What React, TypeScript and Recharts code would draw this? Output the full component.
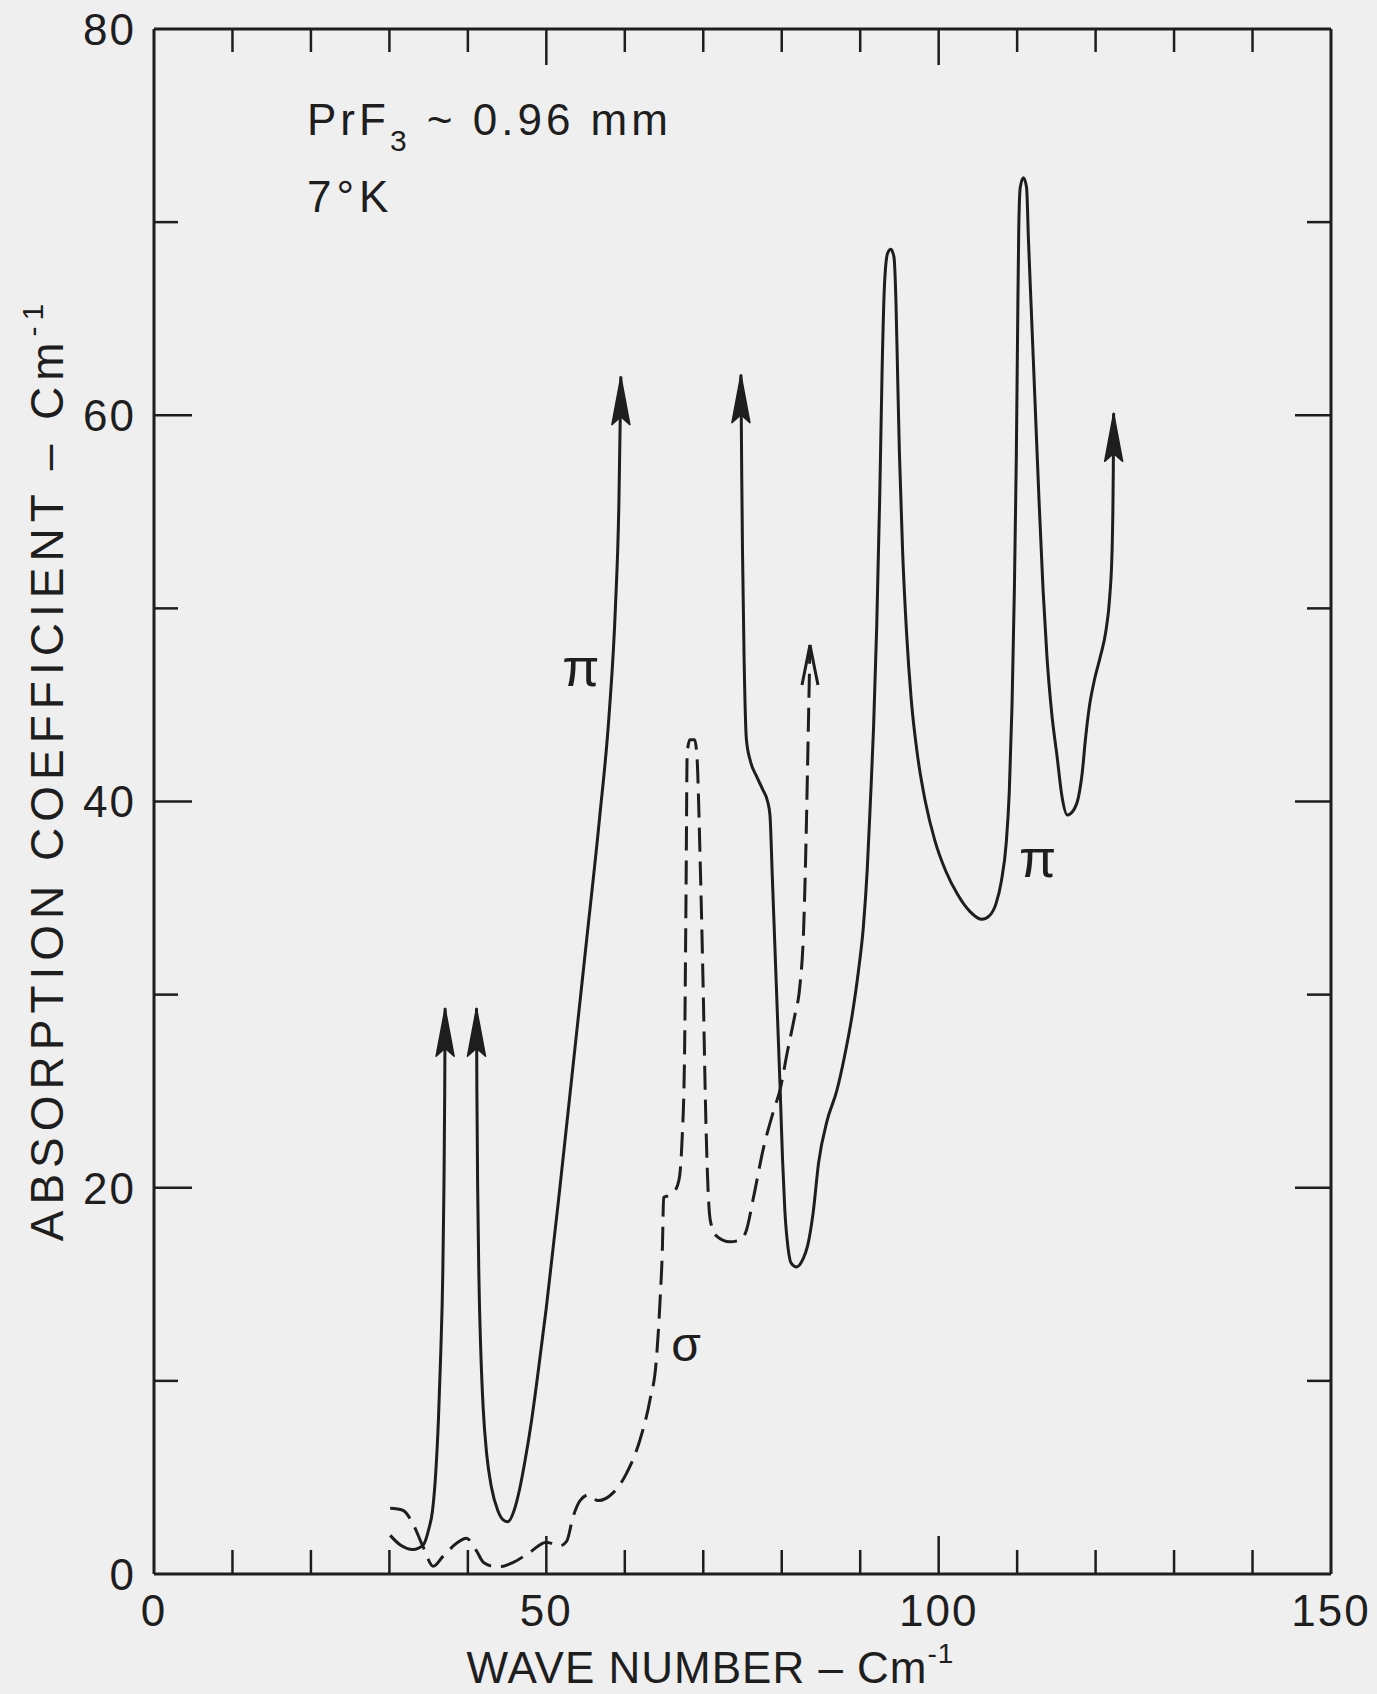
import { ComposedChart, Line, Scatter, XAxis, YAxis, ReferenceDot } from 'recharts';

const INK = '#1e1e1e';
const PAPER = '#efefef';
const FONT = "'Liberation Sans', Arial, sans-serif";

// axis ticks: every 10, labels only on the majors
const xTicks = [0, 10, 20, 30, 40, 50, 60, 70, 80, 90, 100, 110, 120, 130, 140, 150];
const yTicks = [0, 10, 20, 30, 40, 50, 60, 70, 80];

const pts = (rows: number[][]) => rows.map(([x, y]) => ({ x, y }));

// pi polarisation (solid) - broken where it runs off scale (arrows)
const piLow = pts([
    [30.1, 2.0], [31.4, 1.5], [33.0, 1.27], [34.3, 1.5], [35.0, 2.3], [35.5, 3.3],
    [35.9, 5.2], [36.25, 8.0], [36.55, 11.5], [36.8, 15.5], [36.95, 20], [37.05, 25], [37.1, 29.3],
]);

const piMid = pts([
    [41.1, 29.3], [41.15, 25], [41.25, 20], [41.4, 15.5], [41.65, 11.5], [41.95, 8.6],
    [42.4, 6.2], [43.0, 4.5], [43.8, 3.3], [44.5, 2.8], [45.1, 2.7], [45.9, 3.3],
    [46.6, 4.4], [47.3, 5.9], [48.1, 7.9], [49.0, 10.6], [50.0, 13.8], [51.7, 19.9],
    [53.4, 26.3], [55.1, 32.7], [56.8, 39.2], [58.0, 44.5], [58.8, 50.0], [59.25, 55.5],
    [59.5, 62.0],
]);

const piHigh = pts([
    [74.8, 62.1], [74.9, 57], [75.0, 53], [75.2, 47.5], [75.5, 43.2], [76.0, 42.1],
    [76.8, 41.3], [77.6, 40.6], [78.2, 40.0], [78.5, 39.3], [78.8, 36.1], [79.1, 32.8],
    [79.5, 28.4], [79.8, 25.1], [80.1, 21.5], [80.4, 18.8], [80.8, 16.9], [81.2, 16.1],
    [81.9, 15.9], [82.7, 16.3], [83.3, 17.0], [84.0, 18.7], [84.7, 21.3], [85.8, 23.5],
    [87.0, 25.0], [88.0, 26.8], [89.0, 29.0], [89.8, 31.3], [90.4, 33.5], [90.9, 36.5],
    [91.3, 40.0], [91.7, 43.8], [92.1, 49.0], [92.5, 56.0], [92.8, 62.5], [93.1, 66.8],
    [93.5, 68.4], [93.9, 68.6], [94.3, 68.2], [94.55, 66.0], [94.8, 61.5], [95.0, 58.0],
    [95.4, 53.0], [95.9, 48.8], [96.5, 45.3], [97.3, 42.4], [98.3, 40.0], [99.5, 38.0],
    [100.9, 36.4], [102.4, 35.2], [104.0, 34.3], [105.5, 33.9], [106.5, 34.1], [107.3, 34.7],
    [108.0, 35.9], [108.6, 37.8], [109.0, 40.5], [109.35, 45.0], [109.65, 51.0], [109.9, 58.0],
    [110.05, 64.0], [110.2, 69.5], [110.4, 71.8], [110.8, 72.3], [111.2, 71.8], [111.45, 69.0],
    [111.8, 65.5], [112.3, 60.5], [112.8, 55.5], [113.3, 51.0], [113.8, 47.5], [114.4, 44.6],
    [115.1, 42.3], [115.7, 40.3], [116.4, 39.3], [117.1, 39.5], [117.8, 40.2], [118.3, 41.5],
    [118.7, 43.2], [119.2, 44.9], [119.8, 46.2], [120.6, 47.5], [121.3, 48.8], [121.8, 50.6],
    [122.1, 53.0], [122.25, 57.0], [122.3, 60.1],
]);

// sigma polarisation (dashed)
const sigma = pts([
    [30.1, 3.4], [31.7, 3.3], [33.0, 2.6], [34.3, 1.4], [35.6, 0.4], [36.8, 0.9],
    [38.6, 1.6], [39.8, 1.85], [41.1, 1.2], [42.0, 0.6], [43.7, 0.36], [45.8, 0.6],
    [47.9, 1.13], [50.0, 1.65], [51.7, 1.45], [52.6, 1.7], [53.4, 2.95], [54.3, 3.8],
    [55.4, 4.1], [56.6, 3.8], [58.5, 4.2], [60.2, 5.2], [61.9, 6.9], [63.2, 9.0],
    [64.0, 11.0], [64.5, 14.2], [64.8, 17.0], [64.95, 19.5], [65.6, 19.6], [66.3, 19.8],
    [66.9, 20.4], [67.3, 22.5], [67.6, 26.5], [67.8, 35.0], [67.95, 42.5], [68.3, 43.2],
    [68.9, 43.2], [69.2, 42.3], [69.6, 37.0], [70.0, 30.1], [70.3, 24.0], [70.6, 20.0],
    [70.9, 18.3], [71.7, 17.5], [73.4, 17.2], [74.7, 17.3], [75.5, 17.8], [76.4, 19.5],
    [77.7, 22.1], [78.9, 23.9], [79.8, 25.1], [80.7, 27.0], [81.7, 29.0], [82.3, 30.4],
    [82.8, 33.5], [83.1, 38.0], [83.35, 43.0], [83.6, 48.1],
]);

// off-scale markers
const solidArrowTips = pts([[37.1, 29.3], [41.1, 29.3], [59.5, 62.0], [74.8, 62.1], [122.3, 60.1]]);
const dashedArrowTips = pts([[83.6, 48.1]]);

const txt = { fontFamily: FONT, fill: INK };

const BottomTick = ({ x, y, payload }: any) => {
    const v = payload.value;
    const major = v % 50 === 0;
    return (
        <g>
            {v > 0 && v < 150 && (
                <line x1={x} y1={y} x2={x} y2={y - (major ? 38 : 24)} stroke={INK} strokeWidth={2.5} />
            )}
            {major && (
                <text x={x} y={y + 52} textAnchor="middle" fontSize={44} letterSpacing={2} {...txt}>
                    {v}
                </text>
            )}
        </g>
    );
};

const TopTick = ({ x, y, payload }: any) => {
    const v = payload.value;
    if (v <= 0 || v >= 150) return <g />;
    return <line x1={x} y1={y} x2={x} y2={y + (v % 50 === 0 ? 36 : 23)} stroke={INK} strokeWidth={2.5} />;
};

const LeftTick = ({ x, y, payload }: any) => {
    const v = payload.value;
    const major = v % 20 === 0;
    return (
        <g>
            {v > 0 && v < 80 && (
                <line x1={x} y1={y} x2={x + (major ? 38 : 24)} y2={y} stroke={INK} strokeWidth={2.5} />
            )}
            {major && (
                <text x={x - 18} y={y} dy="0.36em" textAnchor="end" fontSize={44} letterSpacing={2} {...txt}>
                    {v}
                </text>
            )}
        </g>
    );
};

const RightTick = ({ x, y, payload }: any) => {
    const v = payload.value;
    if (v <= 0 || v >= 80) return <g />;
    return <line x1={x} y1={y} x2={x - (v % 20 === 0 ? 36 : 24)} y2={y} stroke={INK} strokeWidth={2.5} />;
};

const XTitle = (props: any) => {
    const vb = props.viewBox || { x: 154, y: 1574, width: 1177, height: 120 };
    return (
        <text x={vb.x + vb.width / 2 - 32} y={vb.y + 109} textAnchor="middle" fontSize={44} letterSpacing={1} {...txt}>
            WAVE NUMBER – Cm<tspan dy={-20} fontSize={28}>-1</tspan>
        </text>
    );
};

const YTitle = (props: any) => {
    const vb = props.viewBox || { x: 54, y: 29, width: 100, height: 1545 };
    const bx = vb.x + 9;
    const by = vb.y + vb.height / 2 - 32;
    return (
        <text transform={`translate(${bx},${by}) rotate(-90)`} textAnchor="middle" fontSize={46} letterSpacing={6} {...txt}>
            ABSORPTION COEFFICIENT – Cm<tspan dy={-20} fontSize={30}>-1</tspan>
        </text>
    );
};

const SolidHead = ({ cx, cy }: any) => (
    <path
        d={`M${cx},${cy} L${cx + 9},${cy + 48} L${cx},${cy + 40} L${cx - 9},${cy + 48} Z`}
        fill={INK}
        stroke={INK}
        strokeWidth={1.5}
        strokeLinejoin="round"
    />
);

const OpenHead = ({ cx, cy }: any) => (
    <path d={`M${cx - 8},${cy + 40} L${cx},${cy} L${cx + 8},${cy + 40}`} fill="none" stroke={INK} strokeWidth={3} />
);

const SampleNote = ({ cx, cy }: any) => (
    <g>
        <text x={cx} y={cy} fontSize={44} letterSpacing={4} {...txt}>
            PrF<tspan dy={16} fontSize={30}>3</tspan>
            <tspan dy={-16}> ~ 0.96 mm</tspan>
        </text>
        <text x={cx} y={cy + 77} fontSize={44} letterSpacing={5} {...txt}>
            7°K
        </text>
    </g>
);

const glyph = (ch: string, size: number) => ({ cx, cy }: any) => (
    <text x={cx} y={cy} dy="0.26em" textAnchor="middle" fontSize={size} {...txt}>
        {ch}
    </text>
);

const App = () => {
    return (
        <div style={{ position: 'absolute', left: 0, top: 0, width: 1377, height: 1694, background: PAPER }}>
            <ComposedChart width={1377} height={1694} margin={{ top: 0, right: 0, bottom: 0, left: 54 }}>
                <XAxis
                    type="number"
                    dataKey="x"
                    domain={[0, 150]}
                    ticks={xTicks}
                    interval={0}
                    height={120}
                    tickSize={0}
                    tickMargin={0}
                    tickLine={false}
                    axisLine={{ stroke: INK, strokeWidth: 3 }}
                    tick={<BottomTick />}
                    label={XTitle}
                />
                <XAxis
                    xAxisId="top"
                    orientation="top"
                    type="number"
                    dataKey="x"
                    domain={[0, 150]}
                    ticks={xTicks}
                    interval={0}
                    height={29}
                    tickSize={0}
                    tickMargin={0}
                    tickLine={false}
                    axisLine={{ stroke: INK, strokeWidth: 3 }}
                    tick={<TopTick />}
                />
                <YAxis
                    type="number"
                    dataKey="y"
                    domain={[0, 80]}
                    ticks={yTicks}
                    interval={0}
                    width={100}
                    tickSize={0}
                    tickMargin={0}
                    tickLine={false}
                    axisLine={{ stroke: INK, strokeWidth: 3 }}
                    tick={<LeftTick />}
                    label={YTitle}
                />
                <YAxis
                    yAxisId="right"
                    orientation="right"
                    type="number"
                    dataKey="y"
                    domain={[0, 80]}
                    ticks={yTicks}
                    interval={0}
                    width={46}
                    tickSize={0}
                    tickMargin={0}
                    tickLine={false}
                    axisLine={{ stroke: INK, strokeWidth: 3 }}
                    tick={<RightTick />}
                />

                <Line data={sigma} dataKey="y" type="monotone" stroke={INK} strokeWidth={3} strokeDasharray="24 10" dot={false} activeDot={false} isAnimationActive={false} />
                <Line data={piLow} dataKey="y" type="monotone" stroke={INK} strokeWidth={3} dot={false} activeDot={false} isAnimationActive={false} />
                <Line data={piMid} dataKey="y" type="monotone" stroke={INK} strokeWidth={3} dot={false} activeDot={false} isAnimationActive={false} />
                <Line data={piHigh} dataKey="y" type="monotone" stroke={INK} strokeWidth={3} dot={false} activeDot={false} isAnimationActive={false} />

                <Scatter data={solidArrowTips} dataKey="y" shape={SolidHead} isAnimationActive={false} />
                {/* same 0-150 / 0-80 scales, so this one also feeds the top and right frame axes */}
                <Scatter data={dashedArrowTips} dataKey="y" xAxisId="top" yAxisId="right" shape={OpenHead} isAnimationActive={false} />

                <ReferenceDot x={19.5} y={74.5} r={0} shape={SampleNote} />
                <ReferenceDot x={54.4} y={46.7} r={0} shape={glyph('π', 54)} />
                <ReferenceDot x={112.6} y={36.8} r={0} shape={glyph('π', 54)} />
                <ReferenceDot x={67.8} y={11.7} r={0} shape={glyph('σ', 48)} />
            </ComposedChart>
        </div>
    );
};

export default App;
